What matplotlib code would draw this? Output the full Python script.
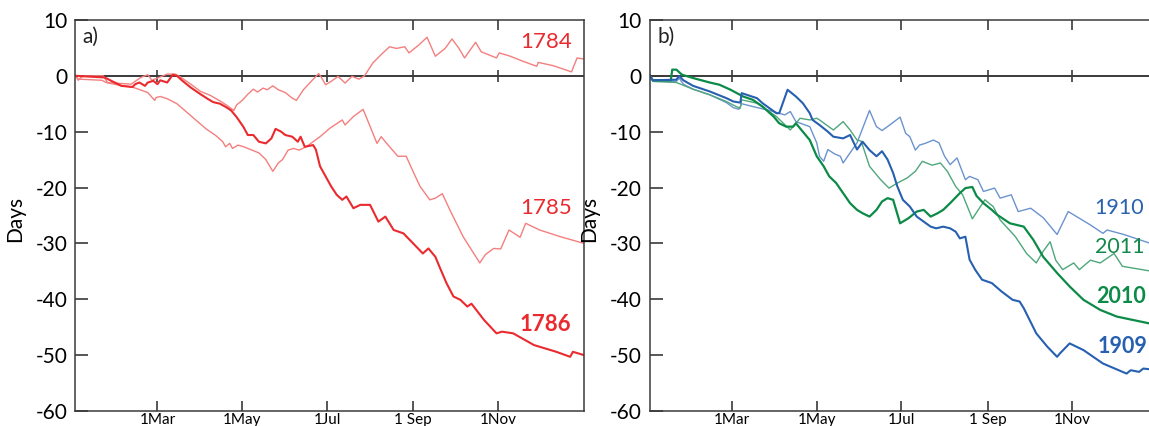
import matplotlib
matplotlib.use('Agg')
import matplotlib.pyplot as plt

plt.rcParams['font.family'] = ['Lato', 'DejaVu Sans']
plt.rcParams['axes.unicode_minus'] = False

# day of year (0 = 1 Jan) and cumulative deviation in days
d1784 = [0, 2, 4, 6, 20, 23, 40, 47, 52, 55, 60, 66, 72, 76, 83, 90, 97, 104, 109, 114, 116, 120, 124, 128, 131,
         135, 138, 142, 146, 151, 156, 159, 164, 170, 175, 177, 180, 184, 189, 194, 199, 204, 208, 214, 220,
         226, 231, 237, 240, 247, 253, 259, 266, 271, 276, 280, 288, 292, 297, 303, 305, 313, 322, 332, 333,
         344, 357, 361, 366]
v1784 = [0, -0.8, -0.3, 0, 0, -1.2, -1.5, -0.3, 0.2, -0.8, -0.3, 0.3, 0.3, -0.3, -1.5, -2.8, -3.5, -4.5, -5.3, -6.2,
         -5.2, -4.4, -3.3, -2.4, -2.9, -2.2, -2.5, -1.8, -2.5, -3, -4, -4.4, -2.5, -0.9, 0.4, -0.3, -1.6, -1, -0.1,
         -1.3, -0.1, -0.6, 0, 2.3, 3.8, 5.2, 4.9, 5.2, 4.1, 5.5, 6.9, 3.5, 4.9, 6.6, 4.9, 3.2, 6, 4.3, 3.8, 3.2,
         4.1, 3.5, 2.6, 1.7, 2.4, 1.8, 0.7, 3.2, 3]

d1785 = [0, 2, 19, 22, 30, 42, 52, 57, 58, 61, 66, 73, 80, 87, 94, 101, 106, 108, 111, 113, 117, 121, 132, 137, 142,
         146, 149, 153, 157, 161, 166, 176, 183, 192, 194, 200, 207, 217, 220, 225, 232, 238, 244, 248, 255,
         259, 264, 270, 279, 291, 295, 301, 306, 312, 320, 324, 334, 349, 366]
v1785 = [0, -0.6, -0.8, -1.2, -1.6, -2.1, -3, -4.4, -3.9, -3.7, -4.1, -5, -6.5, -8, -9.5, -10.7, -11.8, -12.7, -12.1,
         -13, -12.4, -12.7, -13.8, -15, -17.1, -15.6, -15, -13.3, -13, -13.3, -12.7, -10.9, -9.4, -7.9, -8.8, -7.3,
         -6, -12.1, -10.9, -12.4, -14.4, -14.4, -17.7, -19.8, -22.2, -21.9, -21.1, -24.3, -28.8, -33.5, -32, -30.9,
         -31, -27.6, -28.9, -26.4, -27.6, -28.8, -30]

d1786 = [0, 21, 33, 41, 43, 46, 50, 52, 56, 59, 61, 66, 70, 73, 77, 83, 90, 95, 99, 104, 109, 112, 116, 121, 124,
         128, 132, 137, 141, 144, 148, 151, 156, 160, 162, 165, 171, 173, 176, 180, 184, 188, 192, 195, 200,
         205, 212, 218, 223, 229, 236, 243, 250, 254, 259, 262, 267, 272, 277, 282, 285, 294, 303, 307, 315,
         330, 346, 356, 358, 366]
v1786 = [0, -0.3, -1.8, -2, -1.5, -1.2, -1.8, -1.2, -0.9, -1.5, -0.8, -1.2, 0.2, 0, -0.9, -2.1, -3.3, -4.1, -4.7, -5,
         -5.7, -6.2, -7.4, -9.2, -10.6, -10.6, -11.8, -12.1, -11.2, -9.5, -10, -10.6, -10.9, -11.8, -10.9, -12.7,
         -12.4, -13.2, -16.2, -18, -19.8, -21.3, -22.2, -21.6, -23.7, -23.1, -23.1, -26.1, -25.2, -27.6, -28.2,
         -30, -31.8, -30.9, -32.4, -34.2, -37.1, -39.5, -40.1, -41.3, -40.8, -43.7, -46.1, -45.8, -46.1, -48.2,
         -49.4, -50.3, -49.4, -50]

d1909 = [0, 2, 19, 21, 24, 31, 43, 55, 60, 65, 66, 72, 77, 81, 86, 91, 93, 99, 105, 110, 115, 117, 122, 128, 132,
         139, 144, 149, 153, 158, 163, 167, 171, 175, 178, 182, 187, 192, 197, 202, 206, 211, 216, 220, 223,
         227, 230, 234, 239, 246, 253, 261, 266, 269, 278, 286, 293, 295, 302, 312, 326, 343, 346, 352, 355, 366]
v1909 = [0, -0.8, -0.7, 0, -0.8, -1.8, -2.8, -4, -4.6, -4.8, -3.1, -3.6, -4, -4.9, -5.8, -6.7, -6.7, -2.5, -3.7,
         -4.9, -6.7, -7.9, -8.8, -10, -10.9, -11.2, -10.6, -13.2, -11.8, -13.3, -14.4, -13.5, -15, -17.4, -19.8,
         -22.2, -23.4, -25.2, -26.1, -27, -27.3, -27, -27.3, -27.9, -29.1, -28.8, -32.9, -34.7, -36.5, -37.1,
         -38.6, -40.1, -40.4, -41.6, -46.1, -48.5, -50.3, -49.7, -47.9, -49.1, -51.5, -53.3, -52.7, -53, -52.4, -52.7]

d1910 = [0, 3, 19, 21, 24, 31, 43, 55, 60, 64, 66, 74, 86, 93, 97, 101, 105, 115, 120, 122, 125, 128, 133, 137,
         139, 144, 149, 158, 163, 167, 172, 180, 184, 187, 191, 194, 198, 204, 208, 212, 216, 221, 227, 230,
         236, 240, 248, 252, 260, 265, 274, 283, 293, 301, 307, 317, 326, 329, 341, 359, 366]
v1910 = [0, -1, -1, -0.4, -1.5, -2.4, -3.4, -4.8, -5.7, -6, -5, -5.5, -6.2, -6.7, -7, -6.4, -8.2, -9.1, -12, -14.4,
         -15.3, -13.2, -14, -14.4, -15.6, -13.8, -12, -6.2, -9.1, -9.8, -8.9, -7.4, -10.3, -10.9, -13.3, -12.4,
         -12.1, -11.5, -12, -14.4, -15.9, -14.7, -18.6, -18, -18.6, -20.7, -20.1, -21.9, -21.3, -24.3, -23.7,
         -25.4, -28.4, -24.3, -25.2, -26.7, -28.2, -27.6, -28.4, -29.9, -30.2]

d2010 = [0, 2, 15, 16, 19, 23, 31, 43, 50, 58, 67, 74, 81, 89, 93, 98, 103, 105, 115, 120, 125, 129, 134, 139, 144,
         149, 153, 158, 163, 167, 171, 175, 180, 186, 192, 197, 202, 207, 211, 216, 223, 227, 232, 235, 240,
         246, 250, 259, 264, 269, 276, 283, 293, 302, 312, 324, 336, 359, 366]
v2010 = [0, -0.8, -0.8, 1.1, 1.1, 0.2, -0.4, -1.2, -1.6, -2.5, -3.7, -4.3, -5.5, -7.3, -8.5, -9.1, -9.1, -8.5,
         -11.5, -14.4, -16.2, -18, -19.2, -21, -22.8, -24, -24.6, -25.2, -24, -22.5, -21.9, -22.2, -26.4, -25.5,
         -24.3, -24, -25.2, -24.6, -24, -22.8, -21, -20.1, -19.9, -21.5, -22.8, -24, -24.9, -26.4, -26.7, -27,
         -29.4, -32.4, -35.3, -37.7, -40.1, -41.9, -43.1, -44.3, -44.6]

d2011 = [0, 2, 19, 31, 43, 55, 62, 65, 66, 77, 86, 91, 96, 101, 108, 115, 120, 122, 132, 139, 144, 149, 152, 158,
         166, 172, 178, 185, 191, 196, 203, 209, 214, 220, 225, 232, 241, 247, 252, 263, 271, 278, 283, 288,
         292, 297, 305, 309, 317, 324, 334, 340, 359, 366]
v2011 = [0, -1, -1.2, -2.4, -3.4, -4.6, -5.5, -5.8, -4.3, -4.9, -6.4, -7.3, -8.5, -9.7, -7.6, -7.9, -7.6, -7.9,
         -9.7, -8.2, -9.7, -11.5, -11.7, -16.2, -18.6, -20.1, -19.2, -18.3, -17.1, -15.3, -16, -15.6, -17.1,
         -19.8, -21.3, -25.6, -22.2, -23.4, -25.8, -28.8, -31.8, -33.5, -31.4, -29.7, -33, -34.7, -33.5, -34.7,
         -33, -33.5, -31.8, -34.1, -34.9, -35.2]

month_days = [59, 120, 181, 243, 304]
month_labels = ['1Mar', '1May', '1Jul', '1 Sep', '1Nov']
yticks = [-60, -50, -40, -30, -20, -10, 0, 10]

axcol = '#3a3a3a'

fig = plt.figure(figsize=(11.49, 4.26), dpi=100)
axa = fig.add_axes([0.0657, 0.0352, 0.4426, 0.918])
axb = fig.add_axes([0.5657, 0.0352, 0.4426, 0.918])


def style_axis(ax, label):
	ax.set_xlim(0, 366)
	ax.set_ylim(-60, 10)
	ax.axhline(0, color=axcol, lw=1.4, zorder=1)
	ax.plot(month_days, [0] * len(month_days), ls='none', marker='|', ms=9, mew=1.2, color=axcol, zorder=1)
	ax.set_xticks(month_days)
	ax.set_xticklabels(month_labels)
	ax.set_yticks(yticks)
	ax.tick_params(axis='x', direction='in', top=True, length=7, width=1.2, color=axcol,
				   labelsize=11, pad=1.5)
	ax.tick_params(axis='y', direction='in', length=9.5, width=1.2, color=axcol, labelsize=15, pad=6)
	for s in ax.spines.values():
		s.set_color(axcol)
		s.set_linewidth(1.1)
	ax.set_ylabel('Days', fontsize=15)
	ax.yaxis.set_label_coords(-0.1, 0.49)
	ax.text(0.014, 0.957, label, transform=ax.transAxes, fontsize=15, va='center', ha='left', color='#222222')


style_axis(axa, 'a)')
style_axis(axb, 'b)')

light_red = '#f47f7f'
red = '#ea2a2e'
axa.plot(d1784, v1784, color=light_red, lw=1.0)
axa.plot(d1785, v1785, color=light_red, lw=1.0)
axa.plot(d1786, v1786, color=red, lw=1.5)
axa.text(357, 6.1, '1784', color=red, fontsize=16, ha='right', va='center')
axa.text(357, -23.7, '1785', color=red, fontsize=16, ha='right', va='center')
axa.text(357, -44.6, '1786', color=red, fontsize=16, ha='right', va='center', fontweight='bold')

# right panel runs past the picture edge, as in the original figure
axb.plot(d1910, v1910, color='#6c93cf', lw=1.0)
axb.plot(d2011, v2011, color='#4fa77c', lw=1.0)
axb.plot(d2010, v2010, color='#0c8a47', lw=1.6)
axb.plot(d1909, v1909, color='#2760b0', lw=1.5)
axb.text(320, -23.7, '1910', color='#2a62b0', fontsize=15.5, ha='left', va='center')
axb.text(320, -30.6, '2011', color='#12894a', fontsize=15.5, ha='left', va='center')
axb.text(321, -39.5, '2010', color='#0c8a47', fontsize=15.5, ha='left', va='center', fontweight='bold')
axb.text(322, -48.5, '1909', color='#2760b0', fontsize=15.5, ha='left', va='center', fontweight='bold')

fig.savefig('out.png', dpi=100)
